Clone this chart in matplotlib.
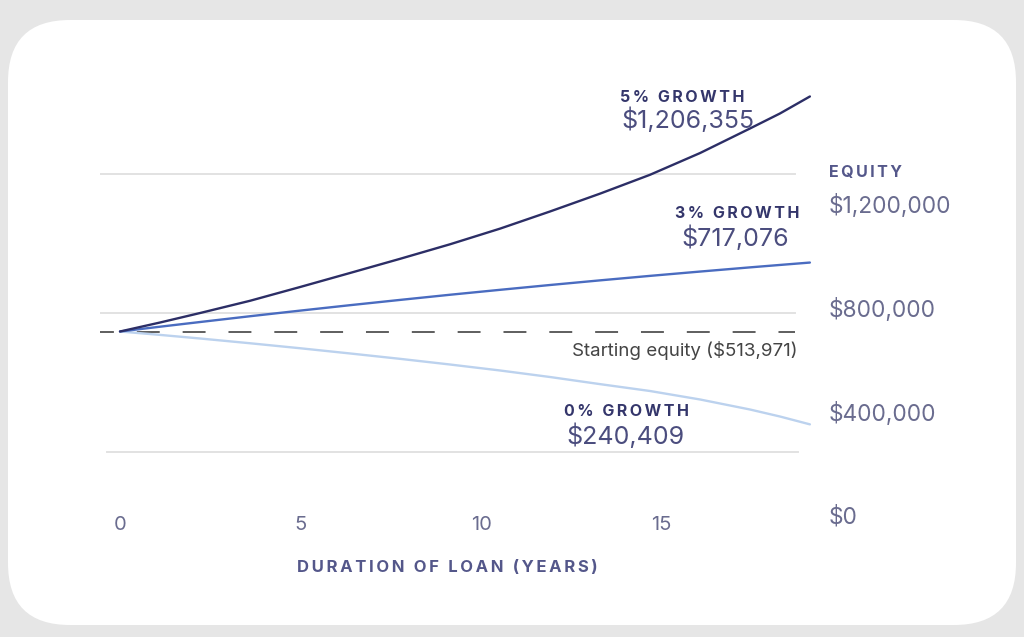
import matplotlib
matplotlib.use("Agg")
import matplotlib.pyplot as plt
from matplotlib.patches import FancyBboxPatch

# ---------------- data ----------------
years = [0, 1.11, 2.22, 3.60, 4.99, 6.37, 7.76, 9.14, 10.53, 11.91,
         13.30, 14.68, 16.07, 17.45, 18.28, 19.11]
growth_5 = [513971, 540485, 568472, 604413, 645068, 686312, 728145, 770862,
            817114, 867491, 920224, 975609, 1039832, 1112009, 1156199, 1206355]
growth_3 = [513971, 528112, 541929, 558927, 575483, 591480, 607065, 622207,
            636790, 650931, 664659, 677828, 690584, 702898, 710027, 717076]
growth_0 = [513971, 503955, 493349, 479355, 464625, 449306, 433398, 416753,
            399077, 379928, 358864, 338684, 313643, 284183, 263561, 240409]

start_equity = 513971
x_ticks = [0, 5, 10, 15]
y_ticks = [0, 400000, 800000, 1200000]
y_tick_labels = ["$0", "$400,000", "$800,000", "$1,200,000"]
series_titles = ["5% GROWTH", "3% GROWTH", "0% GROWTH"]
series_values = ["$1,206,355", "$717,076", "$240,409"]

# ---------------- style ----------------
FONT = ["Inter", "DejaVu Sans"]
plt.rcParams["font.family"] = FONT
C5, C3, C0 = "#2c2e66", "#4a6cc0", "#bcd2ee"
NAVY = "#34366b"
VALC = "#4b4d7e"
TICKC = "#6a6c8f"
GRIDC = "#e2e2e2"

W, H = 1024, 637
fig = plt.figure(figsize=(W / 100, H / 100), dpi=100)
fig.patch.set_facecolor("#e6e6e6")

bg = fig.add_axes([0, 0, 1, 1], zorder=0)
bg.set_xlim(0, W)
bg.set_ylim(H, 0)
bg.axis("off")
bg.add_patch(FancyBboxPatch((8, 20), 1008, 605,
                            boxstyle="round,pad=0,rounding_size=62",
                            facecolor="white", edgecolor="none"))


def spaced(s, sp="\u2009"):
    return sp.join(list(s))


def fr(px, py):
    return px / W, 1 - py / H


ax = fig.add_axes([100 / W, 1 - 505 / H, 720 / W, 445 / H], zorder=2)
ax.patch.set_alpha(0)
ax.set_xlim(-0.554, 19.39)
ax.set_ylim(2840, 1313810)
for s in ax.spines.values():
    s.set_visible(False)
ax.set_yticks([])
ax.set_xticks(x_ticks)
ax.set_xticklabels([str(t) for t in x_ticks], color=TICKC, fontsize=14.5)
ax.tick_params(axis="x", length=0, pad=8)

GRID_Y = [977958, 568472, 158978]
for gy, (x0, x1) in zip(GRID_Y, [(0.0, 0.965), (0.0, 0.965), (0.01, 0.97)]):
    ax.axhline(gy, xmin=x0, xmax=x1, color=GRIDC, lw=1.4, zorder=1)

ax.axhline(start_equity, xmin=0.0, xmax=0.965, color="#333333", lw=1.1,
           linestyle=(5.9, (15, 15)), zorder=2)

ax.plot(years, growth_0, color=C0, lw=1.7, zorder=3, solid_capstyle="round")
ax.plot(years, growth_3, color=C3, lw=1.7, zorder=4, solid_capstyle="round")
ax.plot(years, growth_5, color=C5, lw=1.7, zorder=5, solid_capstyle="round")

axy = fig.add_axes([100 / W, 1 - 540 / H, 720 / W, 480 / H], zorder=1)
axy.patch.set_alpha(0)
axy.set_ylim(-96150, 1750000)
axy.set_xticks([])
for s in axy.spines.values():
    s.set_visible(False)
axy.yaxis.tick_right()
axy.set_yticks(y_ticks)
axy.set_yticklabels(y_tick_labels, color=TICKC, fontsize=16.3)
axy.tick_params(axis="y", length=0, pad=6)

kw_title = dict(fontsize=11.5, fontweight="bold", color=NAVY, ha="center", va="center")
kw_val = dict(fontsize=18, color=VALC, ha="center", va="center")
fig.text(*fr(682, 98), spaced(series_titles[0]), **kw_title)
fig.text(*fr(688, 120), series_values[0], **kw_val)
fig.text(*fr(737, 214), spaced(series_titles[1]), **kw_title)
fig.text(*fr(735, 238), series_values[1], **kw_val)
fig.text(*fr(626, 412), spaced(series_titles[2]), **kw_title)
fig.text(*fr(625, 436), series_values[2], **kw_val)

fig.text(*fr(829, 173), spaced("EQUITY"), fontsize=11.5, fontweight="bold",
         color="#54578a", ha="left", va="center")
fig.text(*fr(447, 568), spaced("DURATION OF LOAN (YEARS)"), fontsize=12,
         fontweight="bold", color="#54578a", ha="center", va="center")
fig.text(*fr(797, 351), "Starting equity ($513,971)", fontsize=13.5,
         color="#444444", ha="right", va="center")

fig.savefig("out.png", dpi=100, facecolor=fig.get_facecolor())
